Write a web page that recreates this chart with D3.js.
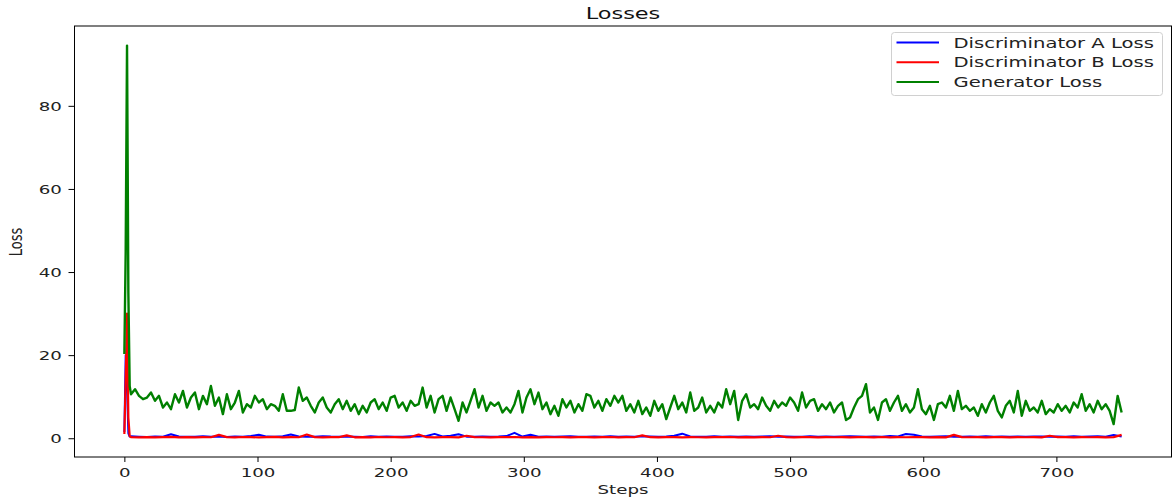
<!DOCTYPE html>
<html>
<head>
<meta charset="utf-8">
<script src="https://cdn.jsdelivr.net/npm/d3@7"></script>
<style>
  body { margin: 0; background: #fff; }
  svg { display: block; font-family: 'DejaVu Sans', sans-serif; }
</style>
</head>
<body>
<svg id="chart" width="1172" height="502"></svg>
<script>
// first few steps, read one by one (the spike)
const headSteps = [0, 1, 2, 3, 4]
const headGen = [20.3, 45, 94.5, 35, 12.5]
const headDiscA = [1.5, 20, 12, 1.2, 0.4]
const headDiscB = [1.0, 14, 30, 5, 0.5]

// generator loss, read every 3 steps from step 5
const genLoss = [
  10.6, 11.8, 10.2, 9.4, 9.8, 11.0, 9.0, 10.2, 7.4, 8.6, 7.0, 10.6, 8.6, 11.4, 7.4, 9.8, 11.0, 7.0, 10.2, 8.2,
  12.6, 7.8, 9.8, 5.8, 10.6, 7.0, 8.6, 11.4, 6.2, 8.2, 7.4, 10.2, 8.6, 9.4, 7.0, 8.2, 7.8, 6.6, 10.6, 6.6,
  6.6, 6.8, 12.2, 9.0, 9.8, 7.8, 6.2, 8.6, 9.8, 7.4, 6.2, 8.2, 9.4, 7.0, 9.0, 6.6, 8.2, 5.8, 7.8, 6.2,
  8.6, 9.4, 7.0, 8.6, 6.6, 9.8, 10.2, 7.4, 8.6, 6.6, 9.0, 7.8, 8.2, 12.2, 7.4, 10.2, 6.2, 9.4, 10.2, 6.6, 9.8,
  7.0, 4.2, 8.6, 6.2, 9.0, 11.8, 7.4, 10.2, 6.6, 8.6, 7.8, 8.6, 6.2, 7.4, 6.2, 8.2, 11.4, 6.2, 9.8, 11.8,
  8.2, 11.0, 7.0, 8.6, 5.8, 7.8, 5.4, 9.4, 7.4, 9.0, 6.2, 8.2, 6.6, 10.6, 10.2, 7.4, 9.0, 6.6, 9.4, 7.8, 10.2,
  8.6, 10.2, 6.6, 8.2, 6.2, 9.0, 5.8, 7.4, 5.4, 9.0, 6.6, 8.2, 4.6, 7.4, 10.2, 7.0, 8.6, 6.2, 11.0, 6.6,
  7.4, 9.8, 6.2, 7.8, 6.2, 8.6, 7.4, 11.8, 8.2, 11.4, 4.4, 9.0, 10.6, 7.4, 8.2, 7.0, 9.8, 7.8, 6.6, 9.0, 7.4, 8.6,
  7.8, 9.8, 8.6, 6.6, 11.0, 7.4, 9.0, 9.4, 6.6, 8.2, 7.0, 8.6, 6.2, 7.8, 8.6, 4.4, 5.0, 7.4, 9.4, 10.2,
  13.0, 6.2, 7.4, 4.4, 8.6, 9.4, 6.6, 8.6, 10.2, 6.6, 8.2, 6.2, 7.4, 11.8, 7.0, 5.8, 7.8, 4.4, 8.2, 8.6, 7.4,
  10.2, 6.6, 11.4, 7.0, 7.8, 6.6, 7.4, 5.4, 8.2, 6.2, 8.6, 10.2, 6.6, 5.0, 7.8, 9.0, 6.2, 11.4, 5.4, 9.0,
  6.6, 7.4, 6.2, 9.0, 5.8, 7.0, 6.2, 8.2, 6.6, 7.8, 6.2, 8.6, 7.4, 10.6, 6.6, 8.2, 6.2, 9.0, 7.0, 8.2,
  6.6, 3.4, 10.2, 6.2
]

// discriminator losses, read every 6 steps from step 5
const discALoss = [
  0.45, 0.38, 0.32, 0.41, 0.36, 0.95, 0.42, 0.33, 0.38, 0.47,
  0.35, 0.40, 0.31, 0.44, 0.37, 0.52, 0.85, 0.39, 0.34, 0.46,
  0.90, 0.41, 0.36, 0.33, 0.48, 0.39, 0.35, 0.43, 0.37, 0.32,
  0.45, 0.38, 0.41, 0.34, 0.36, 0.47, 0.39, 0.55, 1.05, 0.42,
  0.60, 0.95, 0.38, 0.33, 0.44, 0.37, 0.41, 0.52, 1.30, 0.40,
  0.85, 0.36, 0.43, 0.35, 0.39, 0.46, 0.34, 0.38, 0.42, 0.33,
  0.45, 0.37, 0.40, 0.35, 0.48, 0.39, 0.34, 0.43, 0.58, 1.10,
  0.41, 0.36, 0.38, 0.45, 0.33, 0.40, 0.37, 0.44, 0.35, 0.39,
  0.46, 0.34, 0.41, 0.38, 0.36, 0.50, 0.37, 0.43, 0.35, 0.40,
  0.47, 0.39, 0.34, 0.42, 0.38, 0.55, 0.44, 1.00, 0.85, 0.41,
  0.36, 0.39, 0.45, 0.37, 0.33, 0.42, 0.38, 0.46, 0.35, 0.40,
  0.37, 0.44, 0.36, 0.41, 0.39, 0.34, 0.43, 0.38, 0.47, 0.36,
  0.40, 0.45, 0.37, 0.80, 0.42
]
const discBLoss = [
  0.25, 0.22, 0.28, 0.20, 0.26, 0.31, 0.23, 0.27, 0.21, 0.29,
  0.24, 0.80, 0.26, 0.22, 0.30, 0.25, 0.21, 0.27, 0.33, 0.23,
  0.28, 0.24, 0.90, 0.26, 0.22, 0.29, 0.25, 0.70, 0.23, 0.27,
  0.21, 0.30, 0.24, 0.26, 0.22, 0.28, 0.90, 0.25, 0.23, 0.29,
  0.26, 0.22, 0.60, 0.27, 0.24, 0.21, 0.28, 0.25, 0.30, 0.23,
  0.26, 0.22, 0.29, 0.24, 0.27, 0.21, 0.25, 0.28, 0.23, 0.26,
  0.30, 0.22, 0.27, 0.24, 0.70, 0.25, 0.21, 0.28, 0.26, 0.23,
  0.29, 0.24, 0.22, 0.27, 0.25, 0.30, 0.23, 0.26, 0.21, 0.28,
  0.24, 0.60, 0.27, 0.22, 0.25, 0.29, 0.23, 0.26, 0.24, 0.28,
  0.21, 0.25, 0.27, 0.23, 0.30, 0.22, 0.26, 0.24, 0.28, 0.25,
  0.23, 0.27, 0.21, 0.80, 0.26, 0.24, 0.29, 0.22, 0.25, 0.27,
  0.23, 0.28, 0.24, 0.26, 0.21, 0.60, 0.25, 0.27, 0.23, 0.29,
  0.24, 0.26, 0.22, 0.28, 0.80
]

const xTicks = [0, 100, 200, 300, 400, 500, 600, 700]
const yTicks = [0, 20, 40, 60, 80]
const seriesNames = ['Discriminator A Loss', 'Discriminator B Loss', 'Generator Loss']
const seriesColors = ['#0000ff', '#ff0000', '#008000']
const seriesWidths = [2, 2.2, 2.4]

// the picture is stretched sideways, text too
const stretch = 'scale(1.4,1)'

const svg = d3.select('#chart')
const plotLeft = 74.5, plotRight = 1171.5, plotTop = 26, plotBottom = 457

const toPoints = (steps, vals) => steps.map((s, i) => [s, vals[i]])
const genSteps = d3.range(5, 750, 3)
const discSteps = d3.range(5, 750, 6)

const series = [
  toPoints(headSteps, headDiscA).concat(toPoints(discSteps, discALoss)),
  toPoints(headSteps, headDiscB).concat(toPoints(discSteps, discBLoss)),
  toPoints(headSteps, headGen).concat(toPoints(genSteps, genLoss))
]

const allY = series.flat().map(d => d[1])
const ymin = d3.min(allY), ymax = d3.max(allY)
const xPad = 749 * 0.05, yPad = (ymax - ymin) * 0.05

const x = d3.scaleLinear().domain([-xPad, 749 + xPad]).range([plotLeft, plotRight])
const y = d3.scaleLinear().domain([ymin - yPad, ymax + yPad]).range([plotBottom, plotTop])

const line = d3.line().x(d => x(d[0])).y(d => y(d[1]))

svg.append('g')
  .selectAll('path')
  .data(series)
  .enter()
  .append('path')
  .attr('d', d => line(d))
  .attr('fill', 'none')
  .attr('stroke', (d, i) => seriesColors[i])
  .attr('stroke-width', (d, i) => seriesWidths[i])
  .attr('stroke-linejoin', 'round')

// frame
svg.append('rect')
  .attr('x', plotLeft).attr('y', plotTop)
  .attr('width', plotRight - plotLeft).attr('height', plotBottom - plotTop)
  .attr('fill', 'none').attr('stroke', '#000').attr('stroke-width', 1)

const xAxis = svg.append('g')
  .attr('transform', 'translate(0,' + plotBottom + ')')
  .call(d3.axisBottom(x).tickValues(xTicks).tickSize(5).tickSizeOuter(0))
xAxis.select('.domain').remove()
xAxis.selectAll('text')
  .attr('y', 20).attr('dy', 0)
  .attr('transform', stretch)
  .attr('font-size', 13).attr('font-family', 'DejaVu Sans').attr('fill', '#222')

const yAxis = svg.append('g')
  .attr('transform', 'translate(' + plotLeft + ',0)')
  .call(d3.axisLeft(y).tickValues(yTicks).tickSize(6).tickSizeOuter(0))
yAxis.select('.domain').remove()
yAxis.selectAll('text')
  .attr('x', -9).attr('dy', '0.36em')
  .attr('transform', stretch)
  .attr('font-size', 13).attr('font-family', 'DejaVu Sans').attr('fill', '#222')

svg.append('text')
  .attr('transform', 'translate(' + (plotLeft + plotRight) / 2 + ',19) ' + stretch)
  .attr('text-anchor', 'middle')
  .attr('font-size', 16)
  .attr('fill', '#111')
  .text('Losses')

svg.append('text')
  .attr('transform', 'translate(' + (plotLeft + plotRight) / 2 + ',494) ' + stretch)
  .attr('text-anchor', 'middle')
  .attr('font-size', 13)
  .attr('fill', '#222')
  .text('Steps')

svg.append('text')
  .attr('transform', 'translate(22,242) rotate(-90) scale(1,1.4)')
  .attr('text-anchor', 'middle')
  .attr('font-size', 13)
  .attr('fill', '#222')
  .text('Loss')

// legend
const legend = svg.append('g').attr('transform', 'translate(891.5,32.5)')
legend.append('rect')
  .attr('width', 271).attr('height', 63)
  .attr('rx', 3)
  .attr('fill', '#fff').attr('fill-opacity', 0.8)
  .attr('stroke', '#d0d0d0')

const items = legend.selectAll('g.item')
  .data(seriesNames)
  .enter()
  .append('g')
  .attr('class', 'item')
  .attr('transform', (d, i) => 'translate(0,' + (10 + i * 19.7) + ')')

items.append('line')
  .attr('x1', 5).attr('x2', 47.5)
  .attr('stroke', (d, i) => seriesColors[i])
  .attr('stroke-width', 2)

items.append('text')
  .attr('transform', 'translate(62,0) ' + stretch)
  .attr('dy', '0.36em')
  .attr('font-size', 14)
  .attr('fill', '#222')
  .text(d => d)
</script>
</body>
</html>
